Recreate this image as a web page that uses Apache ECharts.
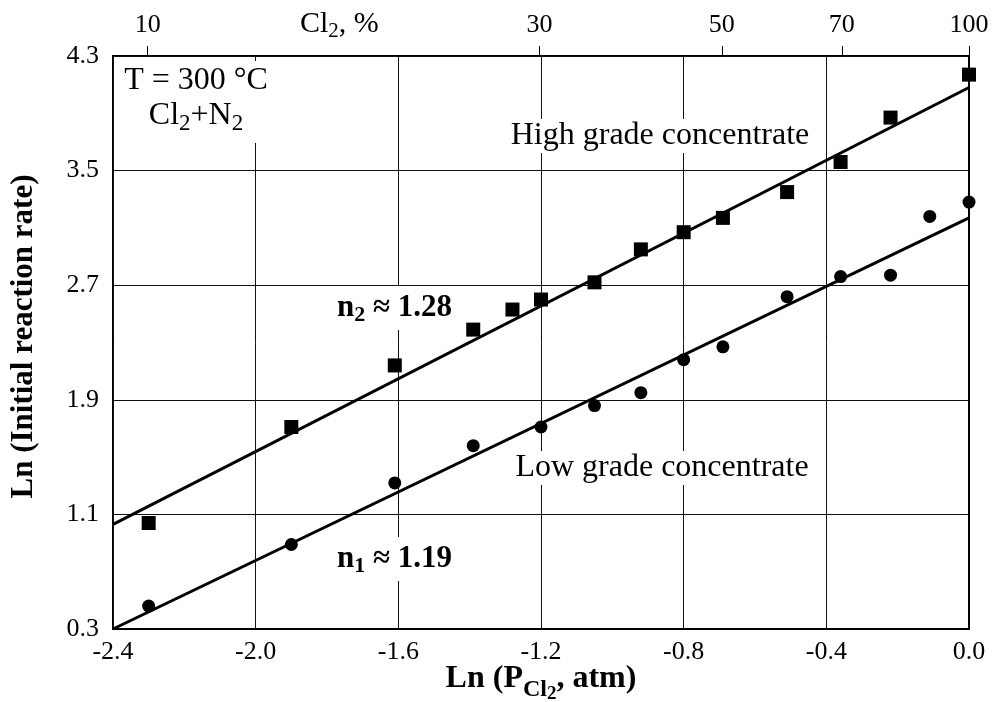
<!DOCTYPE html>
<html>
<head>
<meta charset="utf-8">
<script src="https://cdn.jsdelivr.net/npm/echarts@6/dist/echarts.min.js"></script>
<style>html,body{margin:0;padding:0;background:#fff;}#c{width:994px;height:702px;}</style>
</head>
<body>
<div id="c"></div>
<script>
// ---- data ----
const highX = [-2.30, -1.90, -1.61, -1.39, -1.28, -1.20, -1.05, -0.92, -0.80, -0.69, -0.51, -0.36, -0.22, 0.00];
const highY = [1.04, 1.71, 2.14, 2.39, 2.53, 2.60, 2.72, 2.95, 3.07, 3.17, 3.35, 3.56, 3.87, 4.17];
const lowX  = [-2.30, -1.90, -1.61, -1.39, -1.20, -1.05, -0.92, -0.80, -0.69, -0.51, -0.36, -0.22, -0.11, 0.00];
const lowY  = [0.46, 0.89, 1.32, 1.58, 1.71, 1.86, 1.95, 2.18, 2.27, 2.62, 2.76, 2.77, 3.18, 3.28];
const highFitX = [-2.4, 0.0];
const highFitY = [1.03, 4.08];
const lowFitX  = [-2.4, 0.0];
const lowFitY  = [0.30, 3.17];
const topTickPercents = [10, 30, 50, 70, 100];
const xTicks = { min: -2.4, max: 0.0, interval: 0.4 };
const yTicks = { min: 0.3, max: 4.3, interval: 0.8 };

const FONT = 'Liberation Serif';
const zip = (xs, ys) => xs.map((x, i) => [x, ys[i]]);
const topTickValues = topTickPercents.map(p => Math.log(p / 100));

const chart = echarts.init(document.getElementById('c'), null, { renderer: 'canvas' });

chart.setOption({
  backgroundColor: '#fff',
  animation: false,
  grid: { left: 113, right: 25, top: 56, bottom: 73, show: true, borderColor: '#000', borderWidth: 2,
          containLabel: false, outerBoundsMode: 'none' },
  xAxis: [
    {
      type: 'value', position: 'bottom', min: xTicks.min, max: xTicks.max, interval: xTicks.interval,
      axisLine: { show: true, lineStyle: { color: '#000', width: 2 } },
      axisTick: { show: false },
      splitLine: { show: true, lineStyle: { color: '#111', width: 1 } },
      axisLabel: { margin: 10, fontFamily: FONT, fontSize: 26, color: '#000', formatter: v => v.toFixed(1) },
      name: '{b|Ln (P}{s|Cl}{ss|2}{b|, atm)}',
      nameLocation: 'middle', nameGap: 24, nameMoveOverlap: false,
      nameTextStyle: {
        rich: {
          b: { fontFamily: FONT, fontSize: 32, fontWeight: 'bold', color: '#000' },
          s: { fontFamily: FONT, fontSize: 24, fontWeight: 'bold', color: '#000', padding: [22, 0, 0, 0] },
          ss: { fontFamily: FONT, fontSize: 19, fontWeight: 'bold', color: '#000', padding: [32, 0, 0, 0] }
        }
      }
    },
    {
      type: 'value', position: 'top', min: xTicks.min, max: xTicks.max,
      axisLine: { show: false },
      axisTick: { show: true, inside: false, length: 10, customValues: topTickValues, lineStyle: { color: '#000', width: 1 } },
      splitLine: { show: false },
      axisLabel: { show: true, margin: 18, customValues: topTickValues, fontFamily: FONT, fontSize: 26, color: '#000',
        formatter: v => String(Math.round(Math.exp(v) * 100)) }
    }
  ],
  yAxis: {
    type: 'value', min: yTicks.min, max: yTicks.max, interval: yTicks.interval,
    axisLine: { show: true, lineStyle: { color: '#000', width: 2 } },
    axisTick: { show: false },
    splitLine: { show: true, lineStyle: { color: '#111', width: 1 } },
    axisLabel: { margin: 14, fontFamily: FONT, fontSize: 26, color: '#000', formatter: v => v.toFixed(1) },
    name: 'Ln (Initial reaction rate)',
    nameLocation: 'middle', nameGap: 74, nameRotate: 90, nameMoveOverlap: false,
    nameTextStyle: { fontFamily: FONT, fontSize: 31, fontWeight: 'bold', color: '#000', padding: [0, 0, 0, 12] }
  },
  series: [
    { type: 'line', data: zip(highFitX, highFitY), symbol: 'none', lineStyle: { color: '#000', width: 3 }, z: 3, silent: true },
    { type: 'line', data: zip(lowFitX, lowFitY), symbol: 'none', lineStyle: { color: '#000', width: 3 }, z: 3, silent: true },
    { type: 'scatter', data: zip(highX, highY), symbol: 'rect', symbolSize: 14, itemStyle: { color: '#000', opacity: 1 }, clip: false, z: 4 },
    { type: 'scatter', data: zip(lowX, lowY), symbol: 'circle', symbolSize: 13, itemStyle: { color: '#000', opacity: 1 }, clip: false, z: 4 }
  ],
  graphic: [
    { type: 'text', z: 10, style: { x: 300, y: 24, align: 'left', verticalAlign: 'middle',
        text: '{a|Cl}{s|2}{a|, %}',
        rich: { a: { fontFamily: FONT, fontSize: 30, color: '#000' }, s: { fontFamily: FONT, fontSize: 21, color: '#000', padding: [14, 0, 0, 0] } } } },
    { type: 'text', z: 10, style: { x: 196, y: 102, align: 'center', verticalAlign: 'middle',
        text: '{a|T = 300 °C}\n{a|Cl}{s|2}{a|+N}{s|2}', backgroundColor: '#fff', padding: [4, 3, 8, 3],
        rich: { a: { fontFamily: FONT, fontSize: 32, color: '#000', lineHeight: 32 }, s: { fontFamily: FONT, fontSize: 23, color: '#000', padding: [15, 0, 0, 0] } } } },
    { type: 'text', z: 10, style: { x: 660, y: 136, align: 'center', verticalAlign: 'middle',
        text: 'High grade concentrate', fontFamily: FONT, fontSize: 32, fill: '#000', backgroundColor: '#fff', padding: [1, 4, 1, 4] } },
    { type: 'text', z: 10, style: { x: 662, y: 468, align: 'center', verticalAlign: 'middle',
        text: 'Low grade concentrate', fontFamily: FONT, fontSize: 32, fill: '#000', backgroundColor: '#fff', padding: [1, 4, 1, 4] } },
    { type: 'text', z: 10, style: { x: 335, y: 308, align: 'left', verticalAlign: 'middle',
        text: '{b|n}{bs|2}{b| ≈ 1.28}', backgroundColor: '#fff', padding: [4, 2, 4, 2],
        rich: { b: { fontFamily: FONT, fontSize: 31, fontWeight: 'bold', color: '#000' }, bs: { fontFamily: FONT, fontSize: 22, fontWeight: 'bold', color: '#000', padding: [14, 0, 0, 0] } } } },
    { type: 'text', z: 10, style: { x: 335, y: 559, align: 'left', verticalAlign: 'middle',
        text: '{b|n}{bs|1}{b| ≈ 1.19}', backgroundColor: '#fff', padding: [4, 2, 4, 2],
        rich: { b: { fontFamily: FONT, fontSize: 31, fontWeight: 'bold', color: '#000' }, bs: { fontFamily: FONT, fontSize: 22, fontWeight: 'bold', color: '#000', padding: [14, 0, 0, 0] } } } }
  ]
});
</script>
</body>
</html>
